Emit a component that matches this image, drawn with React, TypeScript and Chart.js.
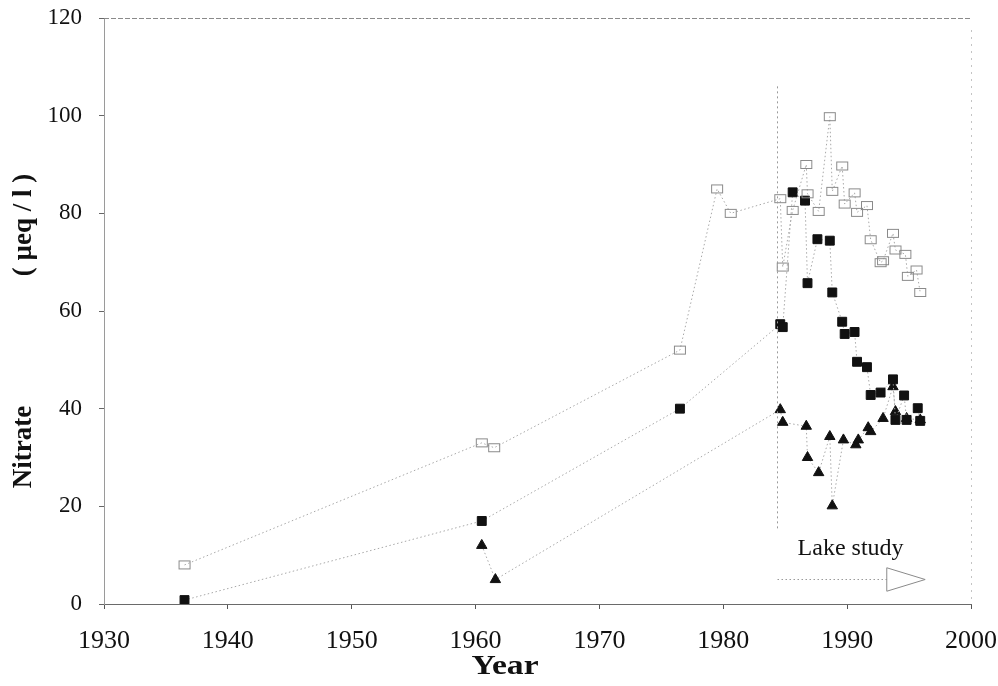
import React, { useEffect, useRef } from 'react';
import { Chart, registerables } from 'chart.js';

Chart.register(...registerables);

// Open squares (upper series)
const openYears = [1936.5, 1960.5, 1961.5, 1976.5, 1979.5, 1980.6, 1984.6, 1984.8, 1985.6, 1986.7, 1986.8, 1987.7, 1988.6, 1988.8, 1989.6, 1989.8, 1990.6, 1990.8, 1991.6, 1991.9, 1992.7, 1992.9, 1993.7, 1993.9, 1994.7, 1994.9, 1995.6, 1995.9];
const openValues = [8, 33, 32, 52, 85, 80, 83, 69, 80.6, 90, 84, 80.4, 99.8, 84.5, 89.7, 81.9, 84.2, 80.2, 81.6, 74.6, 69.9, 70.3, 75.9, 72.5, 71.6, 67.1, 68.4, 63.8];

// Filled squares (middle series)
const filledYears = [1936.5, 1960.5, 1976.5, 1984.6, 1984.8, 1985.6, 1986.6, 1986.8, 1987.6, 1988.6, 1988.8, 1989.6, 1989.8, 1990.6, 1990.8, 1991.6, 1991.9, 1992.7, 1993.7, 1993.9, 1994.6, 1994.8, 1995.7, 1995.9];
const filledValues = [0.8, 17, 40, 57.3, 56.7, 84.3, 82.6, 65.7, 74.7, 74.4, 63.8, 57.8, 55.3, 55.7, 49.6, 48.5, 42.8, 43.3, 46.0, 37.7, 42.7, 37.7, 40.1, 37.5];

// Filled triangles (lower series)
const triYears = [1960.5, 1961.6, 1984.6, 1984.8, 1986.7, 1986.8, 1987.7, 1988.6, 1988.8, 1989.7, 1990.7, 1990.9, 1991.7, 1991.9, 1992.9, 1993.7, 1993.9, 1994.8, 1995.9];
const triValues = [12, 5, 39.8, 37.2, 36.4, 30.0, 26.9, 34.3, 20.1, 33.6, 32.6, 33.6, 36.1, 35.3, 38.0, 44.5, 39.4, 38.0, 37.7];

const xTicks = [1930, 1940, 1950, 1960, 1970, 1980, 1990, 2000];
const yTicks = [0, 20, 40, 60, 80, 100, 120];

const xTitle = 'Year';
const yTitleMain = 'Nitrate';
const yTitleUnit = '( µeq / l )';
const annotationText = 'Lake study';

// Lake study annotation (data units)
const lakeLineYear = 1984.3;
const lakeLineTop = 106;
const lakeLineBottom = 15;
const lakeTextYear = 1986.0;
const lakeTextValue = 10;
const lakeArrowValue = 5.1;
const lakeArrowShaftEnd = 1993.2;
const lakeArrowHeadEnd = 1996.3;
const lakeArrowHeadHalf = 2.4;

const SERIF = '"Liberation Serif", "Times New Roman", serif';

function toPoints(xs: number[], ys: number[]) {
  return xs.map((x, i) => ({ x, y: ys[i] }));
}

function makeOpenRect(): HTMLCanvasElement {
  const c = document.createElement('canvas');
  c.width = 14;
  c.height = 11;
  const g = c.getContext('2d')!;
  g.strokeStyle = '#8a8a8a';
  g.lineWidth = 1;
  g.strokeRect(1.5, 1.5, 11, 8);
  return c;
}

export default function App() {
  const ref = useRef<HTMLCanvasElement | null>(null);

  useEffect(() => {
    if (!ref.current) return;
    const openRect = makeOpenRect();

    const overlay = {
      id: 'overlay',
      afterDraw(chart: any) {
        const { ctx, chartArea, scales } = chart;
        const xs = scales.x;
        const ys = scales.y;
        ctx.save();
        // top border
        ctx.strokeStyle = '#8a8a8a';
        ctx.lineWidth = 1;
        ctx.setLineDash([5, 2]);
        ctx.beginPath();
        ctx.moveTo(chartArea.left, chartArea.top + 0.5);
        ctx.lineTo(chartArea.right, chartArea.top + 0.5);
        ctx.stroke();
        // right border (faint)
        ctx.strokeStyle = '#c4c4c4';
        ctx.setLineDash([2, 5]);
        ctx.beginPath();
        ctx.moveTo(chartArea.right + 0.5, chartArea.top + 12);
        ctx.lineTo(chartArea.right + 0.5, chartArea.bottom);
        ctx.stroke();

        // lake study vertical line
        const lx = Math.round(xs.getPixelForValue(lakeLineYear)) + 0.5;
        ctx.strokeStyle = '#9a9a9a';
        ctx.setLineDash([2, 3]);
        ctx.beginPath();
        ctx.moveTo(lx, ys.getPixelForValue(lakeLineTop));
        ctx.lineTo(lx, ys.getPixelForValue(lakeLineBottom));
        ctx.stroke();

        // arrow shaft
        const ay = Math.round(ys.getPixelForValue(lakeArrowValue)) + 0.5;
        const ax2 = xs.getPixelForValue(lakeArrowShaftEnd);
        ctx.setLineDash([1.5, 2.5]);
        ctx.beginPath();
        ctx.moveTo(lx, ay);
        ctx.lineTo(ax2, ay);
        ctx.stroke();
        // arrow head (hollow)
        const hx = xs.getPixelForValue(lakeArrowHeadEnd);
        const hh = ys.getPixelForValue(0) - ys.getPixelForValue(lakeArrowHeadHalf);
        ctx.setLineDash([]);
        ctx.strokeStyle = '#8a8a8a';
        ctx.beginPath();
        ctx.moveTo(ax2, ay - hh);
        ctx.lineTo(hx, ay);
        ctx.lineTo(ax2, ay + hh);
        ctx.closePath();
        ctx.stroke();

        // annotation text
        ctx.fillStyle = '#111';
        ctx.font = `24px ${SERIF}`;
        ctx.textAlign = 'left';
        ctx.textBaseline = 'alphabetic';
        ctx.fillText(annotationText, xs.getPixelForValue(lakeTextYear), ys.getPixelForValue(lakeTextValue));

        // x title
        ctx.font = `bold 28px ${SERIF}`;
        ctx.textAlign = 'center';
        ctx.textBaseline = 'middle';
        ctx.save();
        ctx.translate(505, 667);
        ctx.scale(1.2, 1);
        ctx.fillText(xTitle, 0, 0);
        ctx.restore();

        // y title
        ctx.save();
        ctx.translate(24, 0);
        ctx.rotate(-Math.PI / 2);
        ctx.font = `bold 27px ${SERIF}`;
        ctx.textAlign = 'center';
        ctx.textBaseline = 'middle';
        ctx.fillText(yTitleMain, -447, 0);
        ctx.fillText(yTitleUnit, -225, 0);
        ctx.restore();

        ctx.restore();
      },
    };

    const lineStyle = {
      showLine: true,
      borderColor: '#a8a8a8',
      borderWidth: 1,
      borderDash: [1.5, 2.5],
      tension: 0,
    };

    const chart = new Chart(ref.current, {
      type: 'scatter',
      data: {
        datasets: [
          {
            label: 'open',
            data: toPoints(openYears, openValues),
            pointStyle: openRect as any,
            pointRadius: 6,
            ...lineStyle,
          },
          {
            label: 'filled',
            data: toPoints(filledYears, filledValues),
            pointStyle: 'rect',
            pointRadius: 6.3,
            pointBackgroundColor: '#111',
            pointBorderColor: '#111',
            pointBorderWidth: 1,
            ...lineStyle,
          },
          {
            label: 'triangle',
            data: toPoints(triYears, triValues),
            pointStyle: 'triangle',
            pointRadius: 6,
            pointBackgroundColor: '#111',
            pointBorderColor: '#111',
            pointBorderWidth: 1,
            ...lineStyle,
          },
        ],
      },
      options: {
        animation: false,
        responsive: true,
        maintainAspectRatio: false,
        layout: { padding: { left: 0, right: 27, top: 18, bottom: 0 } },
        plugins: {
          legend: { display: false },
          tooltip: { enabled: false },
        },
        scales: {
          x: {
            type: 'linear',
            min: 1930,
            max: 2000,
            afterBuildTicks: (s: any) => {
              s.ticks = xTicks.map((v) => ({ value: v }));
            },
            afterFit: (s: any) => {
              s.height = 82;
              s.paddingLeft = 0;
              s.paddingRight = 0;
            },
            ticks: {
              color: '#111',
              font: { family: SERIF, size: 26 },
              padding: 17,
              maxRotation: 0,
              autoSkip: false,
              callback: (v: any) => String(v),
            },
            grid: {
              drawOnChartArea: false,
              drawTicks: true,
              tickLength: 5,
              color: '#555',
            },
            border: { display: true, color: '#6a6a6a', dash: [6, 2] },
          },
          y: {
            type: 'linear',
            min: 0,
            max: 120,
            afterBuildTicks: (s: any) => {
              s.ticks = yTicks.map((v) => ({ value: v }));
            },
            afterFit: (s: any) => {
              s.width = 104;
              s.paddingTop = 0;
              s.paddingBottom = 0;
            },
            ticks: {
              color: '#111',
              font: { family: SERIF, size: 23 },
              padding: 17,
              callback: (v: any) => String(v),
            },
            grid: {
              drawOnChartArea: false,
              drawTicks: true,
              tickLength: 5,
              color: '#666',
            },
            border: { display: true, color: '#9a9a9a', dash: [4, 2] },
          },
        },
      },
      plugins: [overlay],
    });
    return () => chart.destroy();
  }, []);

  return (
    <div style={{ position: 'fixed', left: 0, top: 0, width: 998, height: 686, background: '#fff' }}>
      <canvas ref={ref} />
    </div>
  );
}
